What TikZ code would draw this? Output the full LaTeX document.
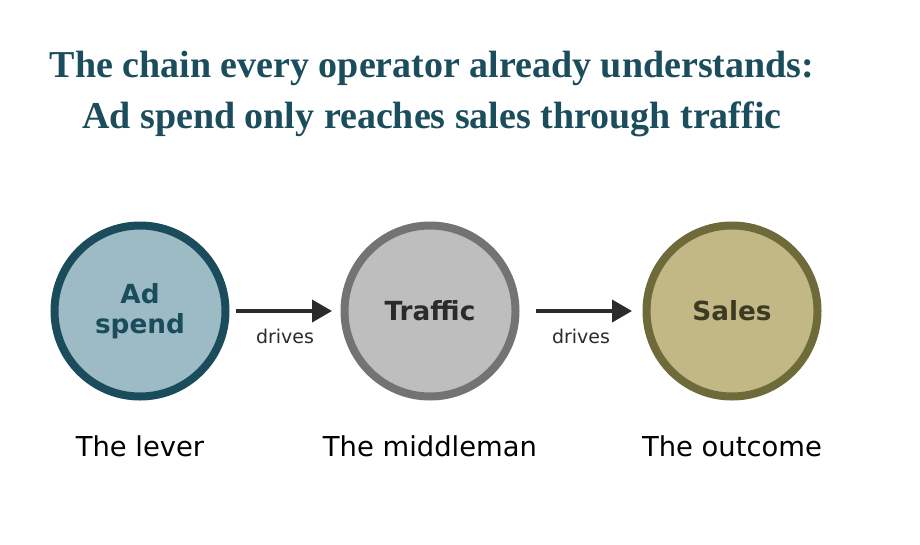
\documentclass[tikz,border=0pt]{standalone}
\usepackage{fontspec}
\setmainfont{Liberation Serif}
\setsansfont{DejaVu Sans}
\usetikzlibrary{arrows.meta,positioning}
\definecolor{Title}{HTML}{1B4D5C}
\definecolor{AdFill}{HTML}{9DBBC4}
\definecolor{AdLine}{HTML}{1A4C5B}
\definecolor{TrFill}{HTML}{BEBEBE}
\definecolor{TrLine}{HTML}{737373}
\definecolor{TrText}{HTML}{2B2B2B}
\definecolor{SaFill}{HTML}{C1B886}
\definecolor{SaLine}{HTML}{6E6A3A}
\definecolor{SaText}{HTML}{3D3A22}
\definecolor{Ink}{HTML}{2B2B2B}
\tikzset{
  stage/.style={circle,line width=8pt,minimum size=171pt,inner sep=0pt,align=center,
    font=\sffamily\bfseries\fontsize{26.3}{30}\selectfont},
  adst/.style={stage,fill=AdFill,draw=AdLine,text=AdLine},
  trst/.style={stage,fill=TrFill,draw=TrLine,text=TrText},
  sast/.style={stage,fill=SaFill,draw=SaLine,text=SaText},
  flow/.style={-{Triangle[length=20pt,width=22pt]},line width=3.8pt,draw=Ink},
  lab/.style={font=\sffamily\fontsize{19}{22}\selectfont,text=Ink,inner sep=0pt},
  role/.style={font=\sffamily\fontsize{27.4}{30}\selectfont,text=black,anchor=base},
  head/.style={font=\rmfamily\bfseries\fontsize{38}{44}\selectfont,text=Title,anchor=base}
}
\begin{document}
\begin{tikzpicture}[x=1pt,y=-1pt]
  \useasboundingbox[fill=white] (0,0) rectangle (920,544);
  % title
  \node[head] (t1) at (432,77) {The chain every operator already understands:};
  \node[head] (t2) at (432,128) {Ad spend only reaches sales through traffic};
  % chain
  \node[adst] (ad) at (140,311) {Ad\\spend};
  \node[trst] (tr) at (430,311) {Traffic};
  \node[sast] (sa) at (732,311) {Sales};
  \draw[flow,shorten <=6.5pt,shorten >=8.5pt] (ad)--node[lab,below=16.5pt] {drives}(tr);
  \draw[flow,shorten <=16.5pt,shorten >=10.5pt] (tr)--node[lab,below=16.5pt] {drives}(sa);
  % roles
  \node[role] (l1) at (140,456) {The lever};
  \node[role] (l2) at (430,456) {The middleman};
  \node[role] (l3) at (732,456) {The outcome};
\end{tikzpicture}
\end{document}
